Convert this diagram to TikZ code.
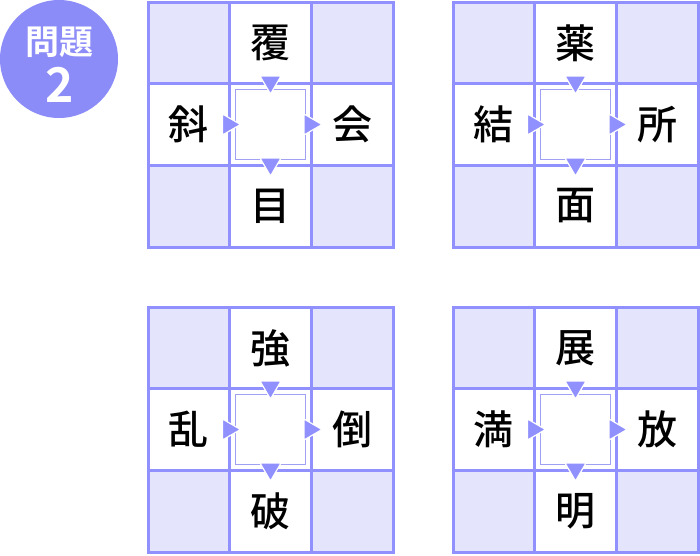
\documentclass[tikz,border=0pt]{standalone}
\usepackage{fontspec}
\newfontfamily\jp{Noto Sans CJK JP Medium}[BoldFont={Noto Sans CJK JP Bold}]
\definecolor{gline}{HTML}{9090FF}
\definecolor{gfill}{HTML}{E4E4FC}
\definecolor{badgecol}{HTML}{8C8CF8}
\definecolor{innercol}{HTML}{A0A0F4}
\tikzset{
  ch/.style={font=\jp\fontsize{40}{40}\selectfont, inner sep=0pt, anchor=center, text=black},
  tri/.style={fill=gline, draw=white, line width=1.2pt, line join=miter},
  gridline/.style={draw=gline, line width=3pt},
  innersq/.style={draw=innercol, line width=1pt},
}
\newcommand\puzzle[7]{%
  \begin{scope}[shift={(#1,#2)}]
    \fill[gfill] (0,0) rectangle (81.67,81.67);
    \fill[gfill] (163.33,0) rectangle (245,81.67);
    \fill[gfill] (0,163.33) rectangle (81.67,245);
    \fill[gfill] (163.33,163.33) rectangle (245,245);
    \draw[gridline] (0,0) rectangle (245,245);
    \draw[gridline] (81.67,0) -- (81.67,245);
    \draw[gridline] (163.33,0) -- (163.33,245);
    \draw[gridline] (0,81.67) -- (245,81.67);
    \draw[gridline] (0,163.33) -- (245,163.33);
    \draw[innersq] (87.7,87.7) rectangle (157.3,157.3);
    \draw[tri] (112,74) -- (133,74) -- (122.5,92) -- cycle;
    \draw[tri] (112,156) -- (133,156) -- (122.5,174) -- cycle;
    \draw[tri] (74.5,112) -- (74.5,133) -- (92.5,122.5) -- cycle;
    \draw[tri] (156,112) -- (156,133) -- (174,122.5) -- cycle;
    \node[ch] (#3-top) at (122.5,41) {#4};
    \node[ch] (#3-left) at (40.8,122.5) {#5};
    \node[ch] (#3-right) at (204.2,122.5) {#6};
    \node[ch] (#3-bottom) at (122.5,204) {#7};
  \end{scope}}
\begin{document}
\begin{tikzpicture}[x=1pt,y=-1pt]
  \useasboundingbox (0,0) rectangle (700,555);
  \fill[badgecol] (59,59) circle (59);
  \node[font=\jp\bfseries\fontsize{34}{34}\selectfont, text=white, inner sep=0pt] (badgetitle) at (59,42) {問題};
  \node[font=\jp\bfseries\fontsize{48}{48}\selectfont, text=white, inner sep=0pt] (badgenum) at (60,85) {2};
  \puzzle{148}{2}{p1}{覆}{斜}{会}{目}
  \puzzle{453}{2}{p2}{薬}{結}{所}{面}
  \puzzle{148}{307}{p3}{強}{乱}{倒}{破}
  \puzzle{453}{307}{p4}{展}{満}{放}{明}
\end{tikzpicture}
\end{document}
